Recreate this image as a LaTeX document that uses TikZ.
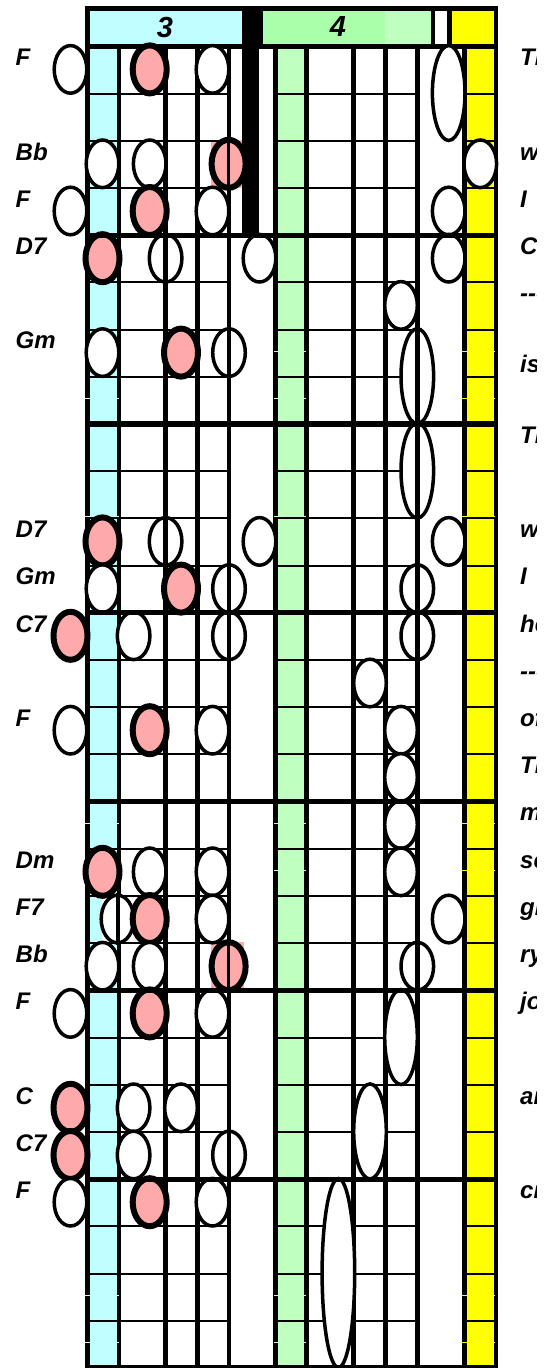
\documentclass[tikz,border=0pt]{standalone}
\usepackage{fontspec}
\setmainfont{Liberation Sans}
\usetikzlibrary{shapes.geometric}
\definecolor{cyancol}{HTML}{BFFFFF}
\definecolor{greencol}{HTML}{BFFFBF}
\definecolor{greenhead}{HTML}{AAFFAA}
\definecolor{yellowcol}{HTML}{FFFF00}
\definecolor{pinknote}{HTML}{FFAAAA}
\tikzset{
  vline/.style={line width=4.7pt,black},
  thinline/.style={line width=2pt,black},
  thickline/.style={line width=5.2pt,black},
  stub/.style={line width=0.7pt},
  plainnote/.style={ellipse,draw=black,line width=3.5pt,fill=white,inner sep=0pt,minimum width=32.6pt,minimum height=47.6pt},
  rootnote/.style={ellipse,draw=black,line width=6pt,fill=pinknote,inner sep=0pt,minimum width=34pt,minimum height=48pt},
  twobeat/.style={minimum height=95pt},
  fourbeat/.style={minimum height=189pt},
  chordlabel/.style={anchor=base west,inner sep=0pt,font=\fontsize{24}{24}\selectfont\bfseries\itshape},
  lyriclabel/.style={anchor=base west,inner sep=0pt,font=\fontsize{24}{24}\selectfont\bfseries\itshape},
  headlabel/.style={anchor=base,inner sep=0pt,font=\fontsize{29}{29}\selectfont\bfseries\itshape},
}
\newcommand{\rowy}[1]{(46.3+47.2*(#1)+23.1)}
\newcommand{\wnote}[4][]{\node[plainnote,#1] (#2) at ({#3},{\rowy{#4}}) {};}
\newcommand{\pnote}[3]{\node[rootnote] (#1) at ({#2},{\rowy{#3}}) {};}
\newcommand{\chordat}[3]{\node[chordlabel] (#1) at (15.5,{46.3+47.2*(#3)+19.3}) {#2};}
\newcommand{\lyricat}[3]{\node[lyriclabel] (#1) at (520,{46.3+47.2*(#3)+19.3}) {#2};}
\begin{document}
\begin{tikzpicture}[x=1pt,y=-1pt]
\useasboundingbox (0,0) rectangle (551,1368);
% header
\fill[black] (85.3,6) rectangle (498.2,48.7);
\fill[cyancol] (90,11) rectangle (242,44);
\fill[greenhead] (263,11) rectangle (385,44);
\fill[greencol] (385,11) rectangle (431,44);
\fill[white] (435,11) rectangle (447,44);
\fill[yellowcol] (452,11) rectangle (494,44);
\node[headlabel] (bar3) at (165,37) {3};
\node[headlabel] (bar4) at (338,36) {4};
% colour columns
\fill[cyancol] (88,48.7) rectangle (118,1368);
\fill[greencol] (275,48.7) rectangle (306,1368);
\fill[yellowcol] (464,48.7) rectangle (496,1368);
% note backgrounds
\fill[white] (102,895.5) rectangle (134,942);
\fill[pinknote] (211,139.5) rectangle (244,187.5);
\fill[pinknote] (211,942) rectangle (244,988);
% thin beat lines
\foreach \r in {1,2,3,5,6,7,9,10,11,13,14,15,17,18,19,21,22,23,25,26,27}{
  \draw[thinline] (87.7,{46.3+47.2*\r}) -- (229,{46.3+47.2*\r});
  \draw[thinline] (275,{46.3+47.2*\r}) -- (417.5,{46.3+47.2*\r});
  \draw[thinline] (464,{46.3+47.2*\r}) -- (496,{46.3+47.2*\r});
}
% vertical lines
\draw[line width=5pt] (87.7,6) -- (87.7,1368);
\foreach \x in {165.6,197.5,229,275.3,306.6,353.6,385.8,417.6,464.2,496}{
  \draw[vline] (\x,46) -- (\x,1368);
}
\draw[line width=4pt] (118.8,46) -- (118.8,1368);
\fill[black] (242,46) rectangle (258.7,235);
% light stubs
\foreach \y in {351,398,516,823,870,1295,1342}{
  \draw[stub,cyancol] (85,\y) -- (118.5,\y);
  \draw[stub,greencol] (274,\y) -- (306,\y);
  \draw[stub,yellowcol] (461.7,\y) -- (495,\y);
}
% notes
\wnote{a1}{70.5}{0}\pnote{a2}{149.7}{0}\wnote{a3}{212.5}{0}\wnote[twobeat]{a4}{448.7}{0.5}
\wnote{b1}{102.5}{2}\wnote{b2}{149.7}{2}\pnote{b3}{228.6}{2}\wnote{b4}{480.3}{2}
\wnote{c1}{70.5}{3}\pnote{c2}{149.7}{3}\wnote{c3}{212.5}{3}\wnote{c4}{448.7}{3}
\pnote{d1}{102.5}{4}\wnote{d2}{165.6}{4}\wnote{d3}{259.5}{4}\wnote{d4}{448.7}{4}
\wnote{e1}{401}{5}
\wnote{f1}{102.5}{6}\pnote{f2}{181}{6}\wnote{f3}{229}{6}\wnote[twobeat]{f4}{417.3}{6.5}
\wnote[twobeat]{g1}{417.3}{8.5}
\pnote{h1}{102.5}{10}\wnote{h2}{165.6}{10}\wnote{h3}{259.5}{10}\wnote{h4}{448.7}{10}
\wnote{i1}{102.5}{11}\pnote{i2}{181}{11}\wnote{i3}{229}{11}\wnote{i4}{417.3}{11}
\pnote{j1}{70.5}{12}\wnote{j2}{133.6}{12}\wnote{j3}{229}{12}\wnote{j4}{417.3}{12}
\wnote{k1}{370}{13}
\wnote{l1}{70.5}{14}\pnote{l2}{149.7}{14}\wnote{l3}{212.5}{14}\wnote{l4}{401}{14}
\wnote{m1}{401}{15}
\wnote{n1}{401}{16}
\pnote{o1}{102.5}{17}\wnote{o2}{149.7}{17}\wnote{o3}{212.5}{17}\wnote{o4}{401}{17}
\wnote{p1}{117.5}{18}\pnote{p2}{149.7}{18}\wnote{p3}{212.5}{18}\wnote{p4}{448.7}{18}
\wnote{q1}{102.5}{19}\wnote{q2}{149.7}{19}\pnote{q3}{228.6}{19}\wnote{q4}{417.3}{19}
\wnote{r1}{70.5}{20}\pnote{r2}{149.7}{20}\wnote{r3}{212.5}{20}\wnote[twobeat]{r4}{401}{20.5}
\pnote{s1}{70.5}{22}\wnote{s2}{133.6}{22}\wnote{s3}{181}{22}\wnote[twobeat]{s4}{370}{22.5}
\pnote{t1}{70.5}{23}\wnote{t2}{133.6}{23}\wnote{t3}{229}{23}
\wnote{u1}{70.5}{24}\pnote{u2}{149.7}{24}\wnote{u3}{212.5}{24}\wnote[fourbeat]{u4}{338.4}{25.5}
% string lines showing through notes centred on them
\foreach \n in {d2,h2,f3,i3,j3,t3,f4,g1,i4,j4,q4}{
  \draw[vline] (\n.north) -- (\n.south);
}
\foreach \n in {b3,q3}{
  \draw[line width=3.6pt] (\n.north) -- (\n.south);
}
\draw[line width=4pt] (p1.north) -- (p1.south);
% thick bar lines
\foreach \r in {4,8,12,16,20,24,28}{
  \draw[thickline] (85.3,{46.3+47.2*\r}) -- (498.2,{46.3+47.2*\r});
}
% chord names
\chordat{k1a}{F}{0}\chordat{k2a}{Bb}{2}\chordat{k3a}{F}{3}\chordat{k4a}{D7}{4}
\chordat{k5a}{Gm}{6}\chordat{k6a}{D7}{10}\chordat{k7a}{Gm}{11}\chordat{k8a}{C7}{12}
\chordat{k9a}{F}{14}\chordat{k10a}{Dm}{17}\chordat{k11a}{F7}{18}\chordat{k12a}{Bb}{19}
\chordat{k13a}{F}{20}\chordat{k14a}{C}{22}\chordat{k15a}{C7}{23}\chordat{k16a}{F}{24}
% lyrics, cut off at the right
\begin{scope}
\clip (500,0) rectangle (536,1368);
\lyricat{y1}{Th}{0}\lyricat{y2}{w}{2}\lyricat{y3}{I}{3}\lyricat{y4}{C}{4}
\lyricat{y5}{{-}{-}{-}}{5}\lyricat{y6}{is}{6.5}\lyricat{y7}{Th}{8}\lyricat{y8}{w}{10}
\lyricat{y9}{I}{11}\lyricat{y10}{he}{12}\lyricat{y11}{{-}{-}{-}}{13}\lyricat{y12}{of}{14}
\lyricat{y13}{Th}{15}\lyricat{y14}{m}{16}\lyricat{y15}{se}{17}\lyricat{y16}{gl}{18}
\lyricat{y17}{ry}{19}\lyricat{y18}{jo}{20}\lyricat{y19}{an}{22}\lyricat{y20}{cr}{24}
\end{scope}
\end{tikzpicture}
\end{document}
